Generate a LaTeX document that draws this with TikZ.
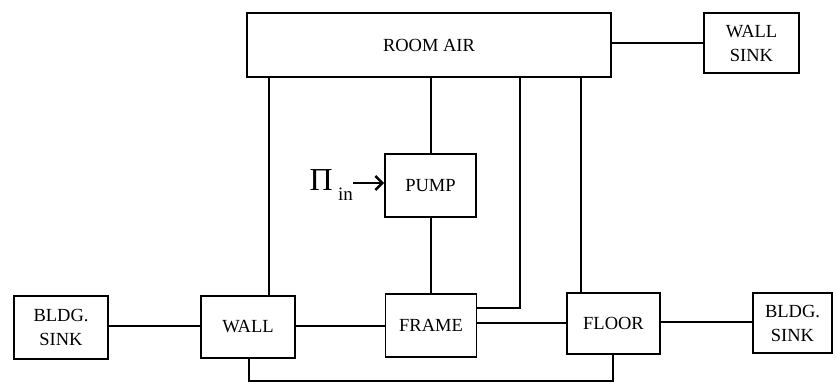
\documentclass[tikz,border=0pt]{standalone}
\usepackage{fontspec}
\setmainfont{Liberation Serif}
\usetikzlibrary{arrows.meta}
\begin{document}
\begin{tikzpicture}[x=1pt,y=-1pt,
  blk/.style={draw, line width=1.8pt, inner sep=0pt, align=center, font=\fontsize{18.5}{24}\selectfont},
  wire/.style={line width=1.8pt}]
\useasboundingbox (0,0) rectangle (837,383);
\node[blk, minimum width=364, minimum height=64] (room) at (429,45) {ROOM AIR};
\node[blk, minimum width=95, minimum height=60] (wsink) at (751.5,43) {WALL\\SINK};
\node[blk, minimum width=91, minimum height=63] (pump) at (430.5,185.5) {PUMP};
\node[blk, minimum width=94, minimum height=63] (bsinkl) at (61,327.5) {BLDG.\\SINK};
\node[blk, minimum width=94, minimum height=62] (wall) at (248,327) {WALL};
\node[blk, minimum width=91, minimum height=63] (frame) at (431,325.5) {FRAME};
\node[blk, minimum width=93, minimum height=61] (floor) at (613.5,323.5) {FLOOR};
\node[blk, minimum width=79, minimum height=60] (bsinkr) at (792.5,323) {BLDG.\\SINK};
\node[inner sep=0pt, anchor=east] (pin) at (353,185) {\fontsize{32}{34}\selectfont Π\,\raisebox{-10pt}{\fontsize{19}{20}\selectfont in}};
\coordinate (c1) at (520,308);
\coordinate (c2) at (249,381);
\coordinate (c3) at (613,381);
% connectors
\draw[wire] (room.east |- 0,43) -- (wsink.west |- 0,43);
\draw[wire] (room.south -| 269,0) -- (wall.north -| 269,0);
\draw[wire] (room.south -| 431,0) -- (pump.north -| 431,0);
\draw[wire] (pump.south -| 431,0) -- (frame.north -| 431,0);
\draw[wire] (room.south -| c1) -- (c1) -- (frame.east |- c1);
\draw[wire] (room.south -| 581,0) -- (floor.north -| 581,0);
\draw[wire] (wall.south -| c2) -- (c2) -- (c3) -- (floor.south -| c3);
\draw[wire] (bsinkl.east |- 0,326) -- (wall.west |- 0,326);
\draw[wire] (wall.east |- 0,326) -- (frame.west |- 0,326);
\draw[wire] (frame.east |- 0,323) -- (floor.west |- 0,323);
\draw[wire] (floor.east |- 0,322) -- (bsinkr.west |- 0,322);
\draw[line width=2.4pt, -{Straight Barb[length=7pt,width=14pt,line width=2.4pt]}] (pin.east |- 0,183) -- (pump.west |- 0,183);
\end{tikzpicture}
\end{document}
